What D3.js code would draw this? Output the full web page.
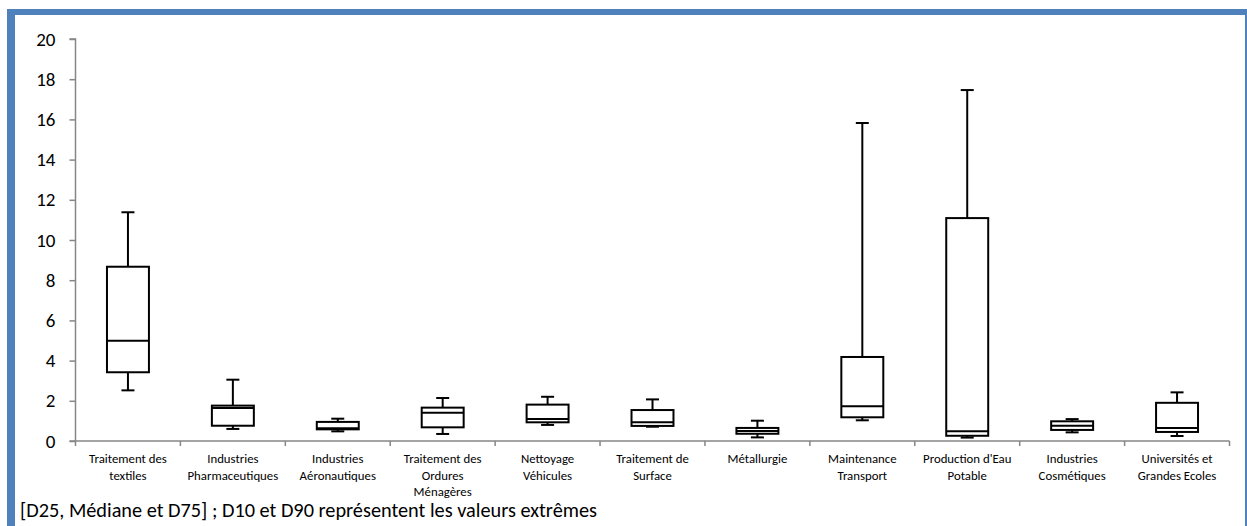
<!DOCTYPE html>
<html>
<head>
<meta charset="utf-8">
<script src="https://cdn.jsdelivr.net/npm/d3@7/dist/d3.min.js"></script>
<style>
  html, body { margin: 0; padding: 0; background: #fff; }
  svg { display: block; font-family: Calibri, Carlito, Lato, "Open Sans", sans-serif; }
</style>
</head>
<body>
<svg id="chart" width="1247" height="526"></svg>
<script>
const categories = [
  ["Traitement des", "textiles"],
  ["Industries", "Pharmaceutiques"],
  ["Industries", "Aéronautiques"],
  ["Traitement des", "Ordures", "Ménagères"],
  ["Nettoyage", "Véhicules"],
  ["Traitement de", "Surface"],
  ["Métallurgie"],
  ["Maintenance", "Transport"],
  ["Production d'Eau", "Potable"],
  ["Industries", "Cosmétiques"],
  ["Universités et", "Grandes Ecoles"]
];
const d10    = [2.52, 0.60, 0.48, 0.35, 0.80, 0.71, 0.18, 1.03, 0.17, 0.43, 0.25];
const d25    = [3.42, 0.76, 0.58, 0.68, 0.93, 0.75, 0.36, 1.18, 0.26, 0.55, 0.45];
const median = [4.99, 1.64, 0.64, 1.41, 1.09, 0.93, 0.50, 1.73, 0.48, 0.76, 0.65];
const d75    = [8.67, 1.76, 0.95, 1.66, 1.81, 1.54, 0.65, 4.18, 11.09, 0.98, 1.90];
const d90    = [11.38, 3.05, 1.11, 2.14, 2.20, 2.07, 1.01, 15.82, 17.46, 1.09, 2.42];
const yTicks = [0, 2, 4, 6, 8, 10, 12, 14, 16, 18, 20];
const caption = "[D25, Médiane et D75] ; D10 et D90 représentent les valeurs extrêmes";

const svg = d3.select("#chart");
const blue = "#4F81BD";
const grey = "#868686";

// frame
svg.append("rect").attr("x", 7).attr("y", 9).attr("width", 1247 - 7).attr("height", 6).attr("fill", blue);
svg.append("rect").attr("x", 7).attr("y", 9).attr("width", 8).attr("height", 526 - 9).attr("fill", blue);
svg.append("rect").attr("x", 1245).attr("y", 9).attr("width", 2).attr("height", 526 - 9).attr("fill", blue);

const x0 = 75.5, x1 = 1229.5;
const y = d3.scaleLinear().domain([0, 20]).range([441, 39]);
const idx = categories.map((c, i) => i);
const x = d3.scaleBand().domain(idx).range([x0, x1]).paddingInner(0).paddingOuter(0);

// y axis
const yAxis = d3.axisLeft(y).tickValues(yTicks).tickSize(6).tickPadding(14).tickFormat(d3.format("d"));
const gy = svg.append("g").attr("transform", `translate(${x0},0)`).call(yAxis);
gy.select(".domain").attr("stroke", grey).attr("stroke-width", 1.5).attr("d", `M-6,${y(20)}H0V${y(0)}`);
gy.selectAll(".tick line").attr("stroke", grey).attr("stroke-width", 1.5);
gy.selectAll(".tick text").attr("font-size", 19).attr("fill", "#000")
  .attr("font-family", "Calibri, Carlito, Lato, 'Open Sans', sans-serif");

// x axis line and separator ticks
const gx = svg.append("g");
gx.append("line").attr("x1", x0 - 6).attr("x2", x1).attr("y1", y(0)).attr("y2", y(0))
  .attr("stroke", grey).attr("stroke-width", 1.5);
const seps = idx.map(i => x(i)).concat([x1]);
gx.selectAll("line.sep").data(seps).enter().append("line").attr("class", "sep")
  .attr("x1", d => d).attr("x2", d => d).attr("y1", y(0)).attr("y2", y(0) + 5)
  .attr("stroke", grey).attr("stroke-width", 1.5);

// category labels
const labels = svg.append("g");
categories.forEach((lines, i) => {
  const t = labels.append("text")
    .attr("x", x(i) + x.bandwidth() / 2)
    .attr("y", 463)
    .attr("text-anchor", "middle")
    .attr("font-size", 12.8)
    .attr("fill", "#000");
  lines.forEach((ln, j) => {
    t.append("tspan").attr("x", x(i) + x.bandwidth() / 2).attr("dy", j === 0 ? 0 : 16.5).text(ln);
  });
});

// boxes
const bw = x.bandwidth() * 0.4;
const capW = 13;
const boxes = svg.append("g");
idx.forEach(i => {
  const cx = x(i) + x.bandwidth() / 2;
  const g = boxes.append("g").attr("stroke", "#000").attr("stroke-width", 2).attr("fill", "none");
  g.append("line").attr("x1", cx).attr("x2", cx).attr("y1", y(d75[i])).attr("y2", y(d90[i]));
  g.append("line").attr("x1", cx - capW / 2).attr("x2", cx + capW / 2).attr("y1", y(d90[i])).attr("y2", y(d90[i]));
  g.append("line").attr("x1", cx).attr("x2", cx).attr("y1", y(d25[i])).attr("y2", y(d10[i]));
  g.append("line").attr("x1", cx - capW / 2).attr("x2", cx + capW / 2).attr("y1", y(d10[i])).attr("y2", y(d10[i]));
  g.append("rect").attr("x", cx - bw / 2).attr("width", bw)
    .attr("y", y(d75[i])).attr("height", y(d25[i]) - y(d75[i])).attr("fill", "#fff");
  g.append("line").attr("x1", cx - bw / 2).attr("x2", cx + bw / 2).attr("y1", y(median[i])).attr("y2", y(median[i]));
});

// caption
svg.append("text").attr("x", 20).attr("y", 517).attr("font-size", 20.3).attr("fill", "#000").text(caption);
</script>
</body>
</html>
